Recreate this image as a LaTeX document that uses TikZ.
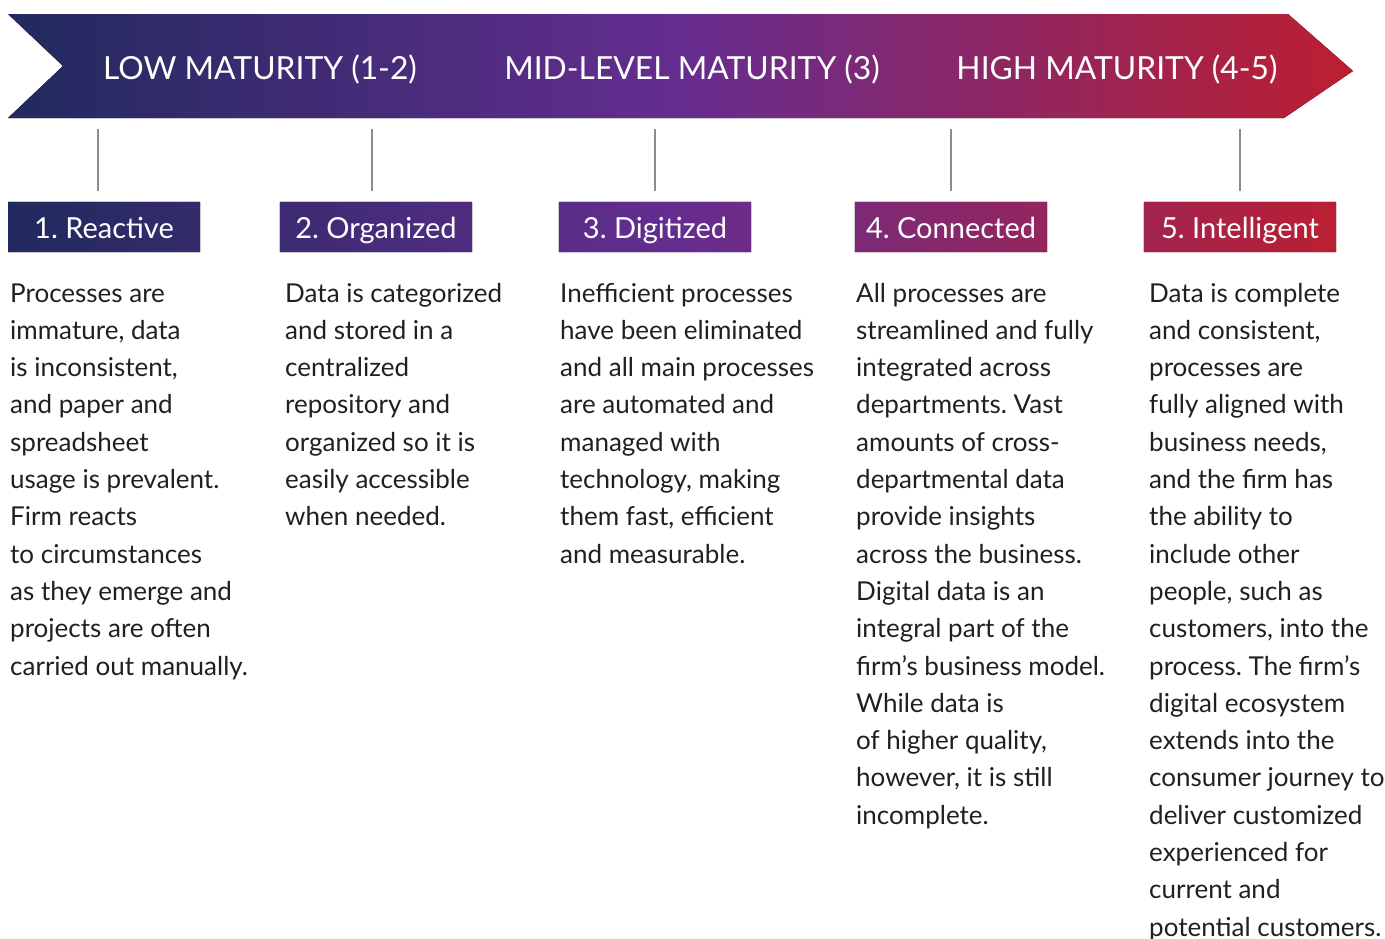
\documentclass[tikz,border=0pt]{standalone}
\usepackage{fontspec}
\setmainfont{Lato}
\usetikzlibrary{calc}
\definecolor{cnavy}{HTML}{212A5E}
\definecolor{cpurple}{HTML}{652D90}
\definecolor{cred}{HTML}{BC1F30}
\definecolor{ctext}{HTML}{231F20}
\definecolor{ctick}{HTML}{8C8C8C}
\pgfdeclarelayer{background}
\pgfsetlayers{background,main}
\tikzset{
  grad/.style={left color=cnavy, right color=cred, middle color=cpurple, draw=none},
  phase/.style={text=white, anchor=base, inner sep=0pt, font=\fontsize{31.8}{38}\selectfont},
  stagebox/.style={minimum width=192pt, minimum height=50pt, inner sep=0pt},
  stagelabel/.style={text=white, anchor=base, inner sep=0pt, font=\fontsize{29}{34}\selectfont},
  tick/.style={draw=ctick, line width=2pt},
  body/.style={anchor=base west, inner sep=0pt, text=ctext}
}
\newcommand{\colbody}[1]{\parbox[t]{320pt}{\fontsize{26}{37.3}\selectfont\raggedright #1}}
\frenchspacing
\begin{document}
\begin{tikzpicture}[x=1pt,y=-1pt]
\useasboundingbox (0,0) rectangle (1385,938);
% banner
\coordinate (bTL) at (8,14);
\coordinate (bN) at (63,66);
\coordinate (bBL) at (8,118);
\coordinate (bTR) at (1288,14);
\coordinate (bTip) at (1353,71);
\coordinate (bBR) at (1284,118);
\fill[grad] (bTL) -- (bTR) -- (bTip) -- (bBR) -- (bBL) -- (bN) -- cycle;
\node[phase] (p1) at (260,79) {LOW MATURITY (1-2)};
\node[phase] (p2) at (692,79) {MID-LEVEL MATURITY (3)};
\node[phase] (p3) at (1117,79) {HIGH MATURITY (4-5)};
% stage boxes
\node[stagebox] (s1) at (104,227) {};
\node[stagebox] (s2) at (376,227) {};
\node[stagebox] (s3) at (655,227) {};
\node[stagebox] (s4) at (951,227) {};
\node[stagebox] (s5) at (1240,227) {};
\begin{pgfonlayer}{background}
\begin{scope}
\clip (s1.south west) rectangle (s1.north east)
      (s2.south west) rectangle (s2.north east)
      (s3.south west) rectangle (s3.north east)
      (s4.south west) rectangle (s4.north east)
      (s5.south west) rectangle (s5.north east);
\fill[grad] (8,190) rectangle (1353,260);
\end{scope}
\end{pgfonlayer}
\node[stagelabel] (l1) at (104,238) {1. Reactive};
\node[stagelabel] (l2) at (376,238) {2. Organized};
\node[stagelabel] (l3) at (655,238) {3. Digitized};
\node[stagelabel] (l4) at (951,238) {4. Connected};
\node[stagelabel] (l5) at (1240,238) {5. Intelligent};
% ticks
\coordinate (t1a) at (98,129);   \coordinate (t1b) at (98,191);
\coordinate (t2a) at (372,129);  \coordinate (t2b) at (372,191);
\coordinate (t3a) at (655,129);  \coordinate (t3b) at (655,191);
\coordinate (t4a) at (951,129);  \coordinate (t4b) at (951,191);
\coordinate (t5a) at (1240,129); \coordinate (t5b) at (1240,191);
\draw[tick] (t1a) -- (t1b);
\draw[tick] (t2a) -- (t2b);
\draw[tick] (t3a) -- (t3b);
\draw[tick] (t4a) -- (t4b);
\draw[tick] (t5a) -- (t5b);
% body texts
\node[body] (c1) at (10,302) {\colbody{Processes are\\ immature, data\\ is inconsistent,\\ and paper and\\ spreadsheet\\ usage is prevalent.\\ Firm reacts\\ to circumstances\\ as they emerge and\\ projects are often\\ carried out manually.}};
\node[body] (c2) at (285,302) {\colbody{Data is categorized\\ and stored in a\\ centralized\\ repository and\\ organized so it is\\ easily accessible\\ when needed.}};
\node[body] (c3) at (560,302) {\colbody{Inefficient processes\\ have been eliminated\\ and all main processes\\ are automated and\\ managed with\\ technology, making\\ them fast, efficient\\ and measurable.}};
\node[body] (c4) at (856,302) {\colbody{All processes are\\ streamlined and fully\\ integrated across\\ departments. Vast\\ amounts of cross-\\ departmental data\\ provide insights\\ across the business.\\ Digital data is an\\ integral part of the\\ firm’s business model.\\ While data is\\ of higher quality,\\ however, it is still\\ incomplete.}};
\node[body] (c5) at (1149,302) {\colbody{Data is complete\\ and consistent,\\ processes are\\ fully aligned with\\ business needs,\\ and the firm has\\ the ability to\\ include other\\ people, such as\\ customers, into the\\ process. The firm’s\\ digital ecosystem\\ extends into the\\ consumer journey to\\ deliver customized\\ experienced for\\ current and\\ potential customers.}};
\end{tikzpicture}
\end{document}
